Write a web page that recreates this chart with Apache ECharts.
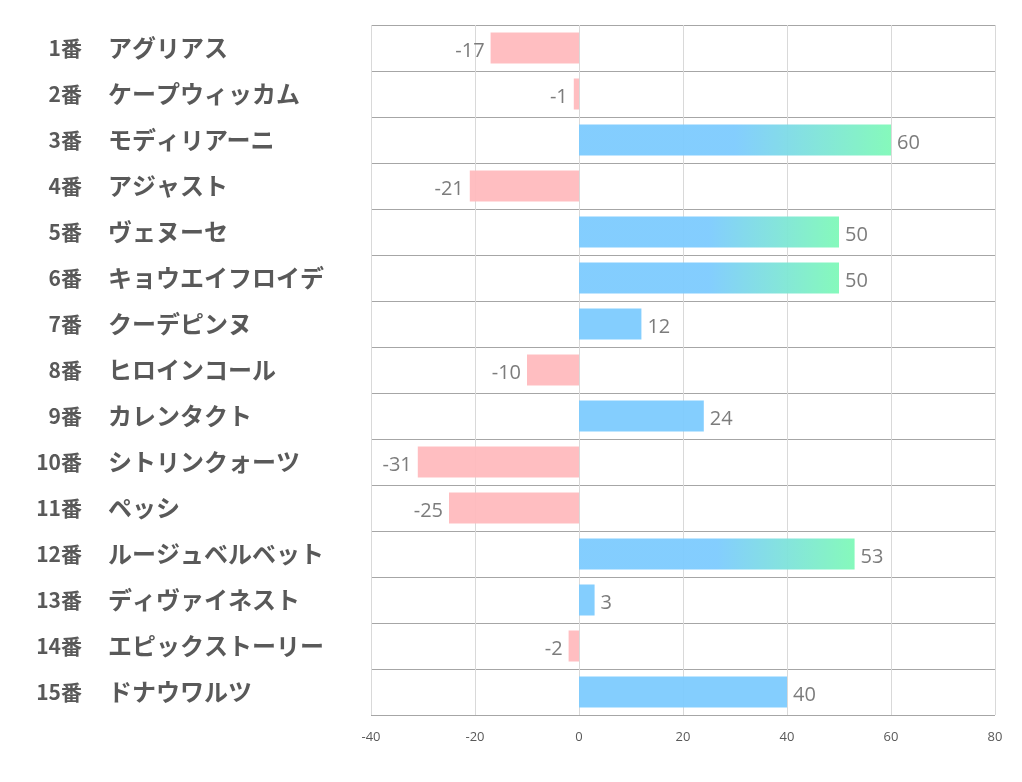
<!DOCTYPE html>
<html><head><meta charset="utf-8">
<script src="https://cdn.jsdelivr.net/npm/echarts@6/dist/echarts.min.js"></script>
<style>html,body{margin:0;padding:0;background:#fff}#c{width:1022px;height:782px}</style>
</head><body><div id="c"></div>
<script>
const numbers = ['1番','2番','3番','4番','5番','6番','7番','8番','9番','10番','11番','12番','13番','14番','15番'];
const names = ['アグリアス','ケープウィッカム','モディリアーニ','アジャスト','ヴェヌーセ','キョウエイフロイデ','クーデピンヌ','ヒロインコール','カレンタクト','シトリンクォーツ','ペッシ','ルージュベルベット','ディヴァイネスト','エピックストーリー','ドナウワルツ'];
const values = [-17,-1,60,-21,50,50,12,-10,24,-31,-25,53,3,-2,40];
const xTicks = [-40,-20,0,20,40,60,80];

const BLUE='#7DCBFE', GREEN='#7FF9B8', PINK='#FFBBBE';
const data = values.map(v=>{
  let color;
  if (v<0) color = PINK;
  else if (v>=50) color = new echarts.graphic.LinearGradient(0,0,1,0,[{offset:0,color:BLUE},{offset:0.5,color:BLUE},{offset:1,color:GREEN}]);
  else color = BLUE;
  return {value:v, itemStyle:{color, opacity:0.95},
    label:{position: v<0?'left':'right'}};
});
const FONT='Noto Sans CJK JP, sans-serif';
const chart = echarts.init(document.getElementById('c'),null,{renderer:'canvas'});
chart.setOption({
  animation:false,
  backgroundColor:'#fff',
  grid:{left:371,right:27,top:25,bottom:67,containLabel:false},
  xAxis:{type:'value',min:xTicks[0],max:xTicks[xTicks.length-1],interval:20,
    axisLine:{show:false},axisTick:{show:false},
    splitLine:{show:true,lineStyle:{color:'#d9d9d9',width:1}},
    axisLabel:{color:'#595959',fontSize:13,margin:16,fontFamily:'Open Sans, Noto Sans, sans-serif'}},
  yAxis:[
    {type:'category',inverse:true,data:numbers,position:'left',
      axisLine:{show:false},axisTick:{show:false},
      splitLine:{show:true,lineStyle:{color:'#a6a6a6',width:1}},
      axisLabel:{align:'right',margin:289,fontSize:21,fontWeight:'bold',color:'#595959',fontFamily:FONT,padding:[0,0,2,0]}},
    {type:'category',inverse:true,data:names,position:'left',offset:0,
      axisLine:{show:false},axisTick:{show:false},splitLine:{show:false},
      axisLabel:{align:'left',margin:263,fontSize:24,fontWeight:'bold',color:'#595959',fontFamily:FONT,padding:[0,0,3,0]}}
  ],
  series:[{type:'bar',data,barWidth:31,
    label:{show:true,color:'#757575',fontSize:20,distance:6,offset:[0,3],fontFamily:'Open Sans, Noto Sans, sans-serif'}}]
});
</script></body></html>
